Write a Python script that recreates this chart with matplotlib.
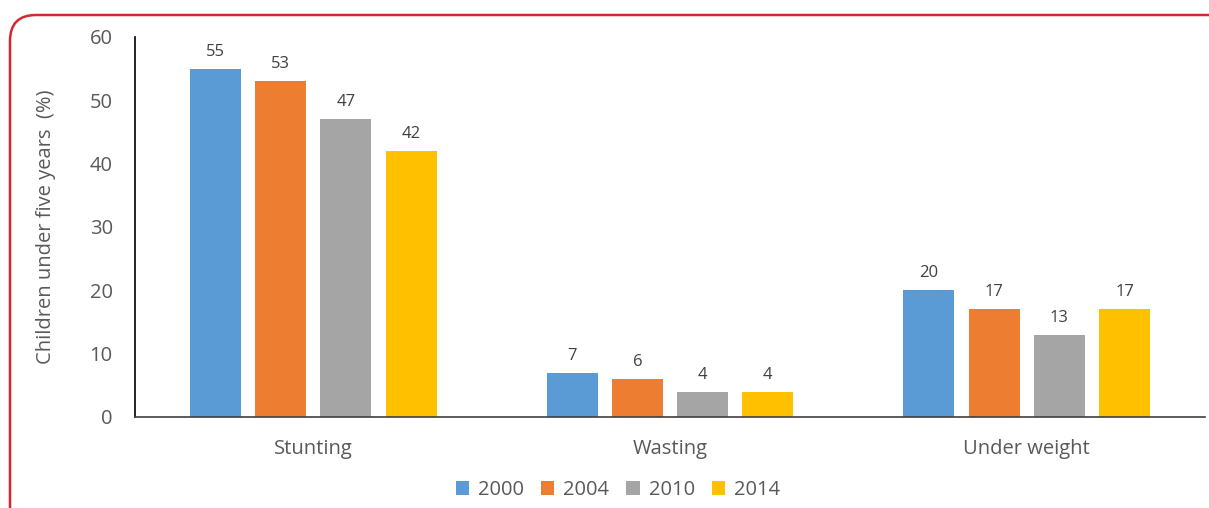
import numpy as np
import matplotlib
matplotlib.use('Agg')
import matplotlib.pyplot as plt
from matplotlib.patches import FancyBboxPatch
from matplotlib.transforms import IdentityTransform

# Данные
categories = ['Stunting', 'Wasting', 'Under weight']
years = ['2000', '2004', '2010', '2014']
values_2000 = [55, 7, 20]
values_2004 = [53, 6, 17]
values_2010 = [47, 4, 13]
values_2014 = [42, 4, 17]
colors = ['#5b9bd5', '#ed7d31', '#a5a5a5', '#ffc000']

series = [values_2000, values_2004, values_2010, values_2014]

plt.rcParams['font.family'] = ['Open Sans', 'DejaVu Sans']
text_color = '#595959'

W, H = 1209, 508
fig = plt.figure(figsize=(W / 100, H / 100), dpi=100)
ax = fig.add_axes([135 / W, 1 - 417 / H, 1070 / W, 380 / H])

x = np.arange(len(categories))
width = 0.143
step = 0.183
for i, (vals, year, col) in enumerate(zip(series, years, colors)):
    pos = x + (i - 1.5) * step
    bars = ax.bar(pos, vals, width, color=col, label=year, zorder=2)
    for b, v in zip(bars, vals):
        ax.text(b.get_x() + b.get_width() / 2, v + 1.4, str(v),
                ha='center', va='bottom', fontsize=12, color='#404040')

ax.set_xlim(-0.5, 2.5)
ax.set_ylim(0, 60)
ax.set_yticks(range(0, 61, 10))
ax.set_xticks(x)
ax.set_xticklabels(categories)
ax.tick_params(axis='both', length=0, labelsize=14.5, colors=text_color)
ax.tick_params(axis='x', pad=16)
ax.tick_params(axis='y', pad=16)

for s in ['top', 'right']:
    ax.spines[s].set_visible(False)
ax.spines['left'].set_color('black')
ax.spines['bottom'].set_color('#404040')
ax.spines['left'].set_linewidth(1.2)
ax.spines['bottom'].set_linewidth(1.2)

ax.set_ylabel('Children under five years  (%)', fontsize=14.5, color=text_color)
ax.yaxis.set_label_coords(-79 / 1070, 0.5)

ax.legend(loc='center', bbox_to_anchor=((618 - 135) / 1070, -73 / 380), ncol=4,
          frameon=False, fontsize=14.5, handlelength=0.65, handleheight=0.65,
          handletextpad=0.45, columnspacing=0.85, labelcolor=text_color)

# Красная рамка (в пикселях)
border = FancyBboxPatch((10, -60), 1260, H - 15 + 60,
                        boxstyle='round,pad=0,rounding_size=26',
                        transform=IdentityTransform(), fill=False,
                        edgecolor='#d9252f', linewidth=1.8, clip_on=False)
fig.patches.append(border)

plt.savefig('out.png', dpi=100)
plt.close()
